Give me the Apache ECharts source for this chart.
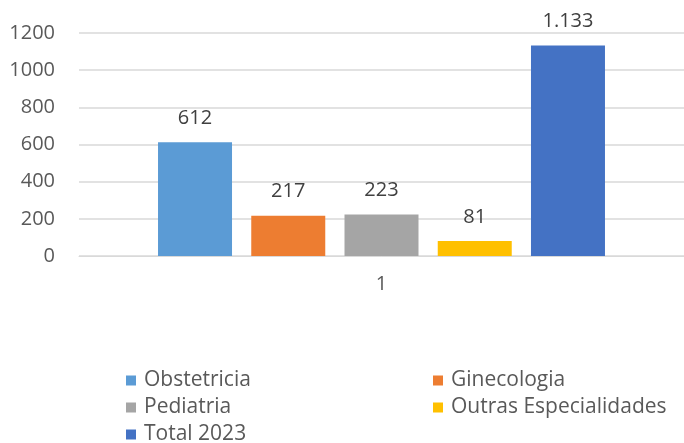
<!DOCTYPE html>
<html>
<head>
<meta charset="utf-8">
<script src="https://cdn.jsdelivr.net/npm/echarts@6/dist/echarts.min.js"></script>
<style>
  html, body { margin: 0; padding: 0; background: #fff; }
  #chart { width: 684px; height: 443px; }
</style>
</head>
<body>
<div id="chart"></div>
<script>
// dados
const categories = ['1']
const seriesNames = ['Obstetricia', 'Ginecologia', 'Pediatria', 'Outras Especialidades', 'Total 2023']
const seriesValues = [612, 217, 223, 81, 1133]
const seriesColors = ['#5B9BD5', '#ED7D31', '#A5A5A5', '#FFC000', '#4472C4']
const yTicks = { min: 0, max: 1200, interval: 200 }

const font = '"Open Sans", sans-serif'
const textColor = '#595959'

// formato pt: 1.133
const fmt = v => String(v).replace(/\B(?=(\d{3})+(?!\d))/g, '.')

const chart = echarts.init(document.getElementById('chart'))

const series = seriesNames.map((name, i) => ({
    name: name,
    type: 'bar',
    data: [seriesValues[i]],
    barWidth: 74,
    barGap: '26%',
    itemStyle: { color: seriesColors[i] },
    label: {
        show: true,
        position: 'top',
        distance: 14,
        fontFamily: font,
        fontSize: 20,
        color: '#404040',
        formatter: p => fmt(p.value)
    }
}))

const legendText = { fontFamily: font, fontSize: 21, color: textColor, padding: [0, 0, 0, 3] }

const legendBase = {
    orient: 'vertical',
    top: 365,
    height: 90,
    itemWidth: 10,
    itemHeight: 10,
    itemGap: 6,
    icon: 'rect',
    textStyle: legendText
}

chart.setOption({
    animation: false,
    grid: { left: 79, right: -6, top: 33, bottom: 187 },
    xAxis: {
        type: 'category',
        data: categories,
        axisLine: { lineStyle: { color: '#D9D9D9' } },
        axisTick: { show: false },
        axisLabel: { fontFamily: font, fontSize: 20, color: textColor, margin: 18 }
    },
    yAxis: {
        type: 'value',
        min: yTicks.min,
        max: yTicks.max,
        interval: yTicks.interval,
        axisLine: { show: false },
        axisTick: { show: false },
        axisLabel: {
            fontFamily: font, fontSize: 20, color: textColor, margin: 24,
            formatter: v => String(v)
        },
        splitLine: { lineStyle: { color: '#D9D9D9', width: 1.5 } }
    },
    legend: [
        Object.assign({ data: ['Obstetricia', 'Pediatria', 'Total 2023'], left: 121 }, legendBase),
        Object.assign({ data: ['Ginecologia', 'Outras Especialidades'], left: 428 }, legendBase)
    ],
    series: series
})
</script>
</body>
</html>
